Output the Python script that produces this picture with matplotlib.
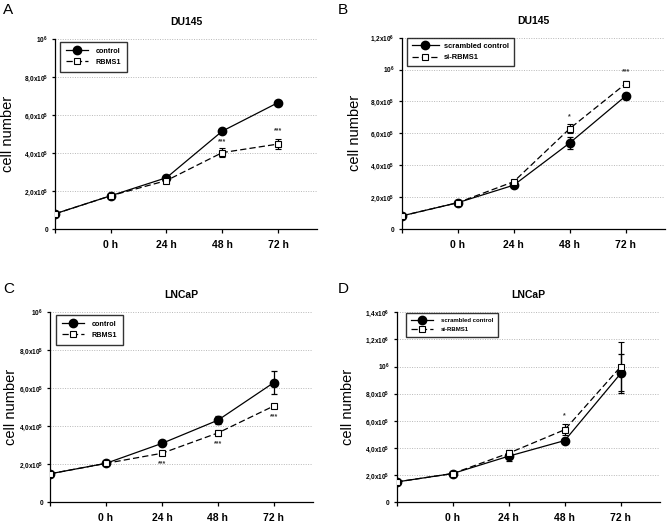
import matplotlib
matplotlib.use("Agg")
import matplotlib.pyplot as plt
from matplotlib.lines import Line2D

plt.rcParams["font.family"] = ["Liberation Sans", "DejaVu Sans"]
plt.rcParams["mathtext.fontset"] = "custom"
plt.rcParams["mathtext.rm"] = "Liberation Sans:bold"
plt.rcParams["mathtext.bf"] = "Liberation Sans:bold"
plt.rcParams["mathtext.default"] = "bf"

W, H = 669, 525

# x positions: 0 = seeding point (unlabelled), 1..4 = time points
X_POS = [0, 1, 2, 3, 4]
X_LABELS = ["0 h", "24 h", "48 h", "72 h"]

# Panel A: DU145, control vs RBMS1
A_CTRL = [0.80e5, 1.75e5, 2.70e5, 5.15e5, 6.65e5]
A_CTRL_ERR = [0, 0, 1.5e4, 0.8e4, 0.6e4]
A_TREAT = [0.80e5, 1.75e5, 2.55e5, 4.02e5, 4.47e5]
A_TREAT_ERR = [0, 0, 1.0e4, 2.5e4, 2.5e4]

# Panel B: DU145, scrambled control vs si-RBMS1
B_CTRL = [0.82e5, 1.65e5, 2.75e5, 5.40e5, 8.35e5]
B_CTRL_ERR = [0, 0, 1.0e4, 4.0e4, 2.0e4]
B_TREAT = [0.82e5, 1.65e5, 2.97e5, 6.30e5, 9.12e5]
B_TREAT_ERR = [0, 0, 1.0e4, 3.0e4, 1.5e4]

# Panel C: LNCaP, control vs RBMS1
C_CTRL = [1.50e5, 2.05e5, 3.10e5, 4.32e5, 6.30e5]
C_CTRL_ERR = [0, 0, 1.2e4, 2.0e4, 6.1e4]
C_TREAT = [1.50e5, 2.05e5, 2.58e5, 3.65e5, 5.07e5]
C_TREAT_ERR = [0, 0, 1.0e4, 1.5e4, 1.0e4]

# Panel D: LNCaP, scrambled control vs si-RBMS1
D_CTRL = [1.50e5, 2.12e5, 3.40e5, 4.55e5, 9.50e5]
D_CTRL_ERR = [0, 0, 3.5e4, 2.0e4, 1.42e5]
D_TREAT = [1.50e5, 2.12e5, 3.62e5, 5.35e5, 1.00e6]
D_TREAT_ERR = [0, 0, 2.5e4, 4.0e4, 1.78e5]

# significance marks: (x, y, text)
A_STARS = [(3, 4.58e5, "***"), (4, 5.15e5, "***")]
B_STARS = [(3, 7.05e5, "*"), (4, 9.85e5, "***")]
C_STARS = [(2, 2.02e5, "***"), (3, 3.07e5, "***"), (4, 4.52e5, "***")]
D_STARS = [(3, 6.40e5, "*")]

Y_TICKS_1M = [0, 2e5, 4e5, 6e5, 8e5, 1e6]
Y_LABELS_1M = ["0", "2,0x10$^5$", "4,0x10$^5$", "6,0x10$^5$", "8,0x10$^5$", "10$^6$"]
Y_TICKS_12M = Y_TICKS_1M + [1.2e6]
Y_LABELS_12M = Y_LABELS_1M + ["1,2x10$^6$"]
Y_TICKS_14M = Y_TICKS_12M + [1.4e6]
Y_LABELS_14M = Y_LABELS_12M + ["1,4x10$^6$"]

# legend look per panel (the source panels differ slightly)
LEG_SMALL = dict(size=5.2, handlelength=3.05, borderpad=0.82, labelspacing=0.53,
                 handletextpad=1.1)
LEG_B = dict(size=5.4, handlelength=3.6, borderpad=0.65, labelspacing=0.56,
             handletextpad=0.7)
LEG_D = dict(size=4.3, handlelength=3.7, borderpad=0.85, labelspacing=0.67,
             handletextpad=1.3)


def px_axes(left, top, right, bottom):
    return [left / W, 1 - bottom / H, (right - left) / W, (bottom - top) / H]


def draw_panel(fig, rect, letter, letter_xy, title, ctrl, ctrl_err, treat, treat_err,
               labels, yticks, ylabels, stars, leg_anchor, leg_opts, ylabel_x):
    ax = fig.add_axes(px_axes(*rect))
    ymax = yticks[-1]

    for y in yticks[1:]:
        ax.axhline(y, color="#b8b8b8", linestyle=(0, (1, 1.5)), linewidth=0.7, zorder=0)

    ctrl_style = dict(color="black", linestyle="-", linewidth=0.9, marker="o",
                      markersize=6.0, markerfacecolor="black", markeredgecolor="black")
    treat_style = dict(color="black", linestyle=(0, (5, 2.5)), linewidth=0.9,
                       marker="s", markersize=4.9, markerfacecolor="white",
                       markeredgecolor="black", markeredgewidth=0.8)

    ax.errorbar(X_POS, ctrl, yerr=ctrl_err, capsize=2.5, elinewidth=0.9,
                capthick=0.9, zorder=3, **ctrl_style)
    ax.errorbar(X_POS, treat, yerr=treat_err, capsize=2.5, elinewidth=0.9,
                capthick=0.9, zorder=4, **treat_style)

    for x, y, s in stars:
        ax.text(x, y, s, ha="center", va="center", fontsize=5, color="#333333",
                fontweight="bold")

    ax.set_xlim(0, 4.7)
    ax.set_ylim(0, ymax)
    ax.set_xticks(X_POS)
    ax.set_xticklabels([""] + X_LABELS, fontsize=7.5, fontweight="bold")
    ax.set_yticks(yticks)
    ax.set_yticklabels(ylabels, fontsize=4.7, fontweight="bold")
    ax.tick_params(axis="x", length=3, width=0.9, pad=5)
    ax.tick_params(axis="y", length=2.5, width=0.9, pad=2.5)
    for side in ("top", "right"):
        ax.spines[side].set_visible(False)
    for side in ("left", "bottom"):
        ax.spines[side].set_linewidth(0.9)

    ax.set_ylabel("cell number", fontsize=10.5)
    ax.yaxis.set_label_coords(ylabel_x, 0.5)
    ax.set_title(title, fontsize=7.5, fontweight="bold", pad=10)

    handles = [Line2D([], [], **ctrl_style), Line2D([], [], **treat_style)]
    opts = dict(leg_opts)
    size = opts.pop("size")
    leg = ax.legend(handles, labels, loc="upper left", bbox_to_anchor=leg_anchor,
                    borderaxespad=0, prop={"weight": "bold", "size": size},
                    frameon=True, fancybox=False, edgecolor="black", **opts)
    leg.get_frame().set_linewidth(1.0)

    fig.text(letter_xy[0] / W, 1 - letter_xy[1] / H, letter, fontsize=11,
             ha="left", va="center")
    return ax


fig = plt.figure(figsize=(W / 100, H / 100), dpi=100)

draw_panel(fig, (55, 39, 317, 229), "A", (3, 10), "DU145",
           A_CTRL, A_CTRL_ERR, A_TREAT, A_TREAT_ERR, ["control", "RBMS1"],
           Y_TICKS_1M, Y_LABELS_1M, A_STARS, (0.019, 0.984), LEG_SMALL, -0.153)
draw_panel(fig, (401.7, 37.7, 665, 229), "B", (338, 10), "DU145",
           B_CTRL, B_CTRL_ERR, B_TREAT, B_TREAT_ERR, ["scrambled control", "si-RBMS1"],
           Y_TICKS_12M, Y_LABELS_12M, B_STARS, (0.02, 1.0), LEG_B, -0.151)
draw_panel(fig, (50, 312.3, 313, 502.3), "C", (3, 289), "LNCaP",
           C_CTRL, C_CTRL_ERR, C_TREAT, C_TREAT_ERR, ["control", "RBMS1"],
           Y_TICKS_1M, Y_LABELS_1M, C_STARS, (0.023, 0.986), LEG_SMALL, -0.122)
draw_panel(fig, (396.7, 312.3, 660, 502.3), "D", (338, 289), "LNCaP",
           D_CTRL, D_CTRL_ERR, D_TREAT, D_TREAT_ERR, ["scrambled control", "si-RBMS1"],
           Y_TICKS_14M, Y_LABELS_14M, D_STARS, (0.035, 0.998), LEG_D, -0.158)

fig.savefig("out.png", dpi=100)
